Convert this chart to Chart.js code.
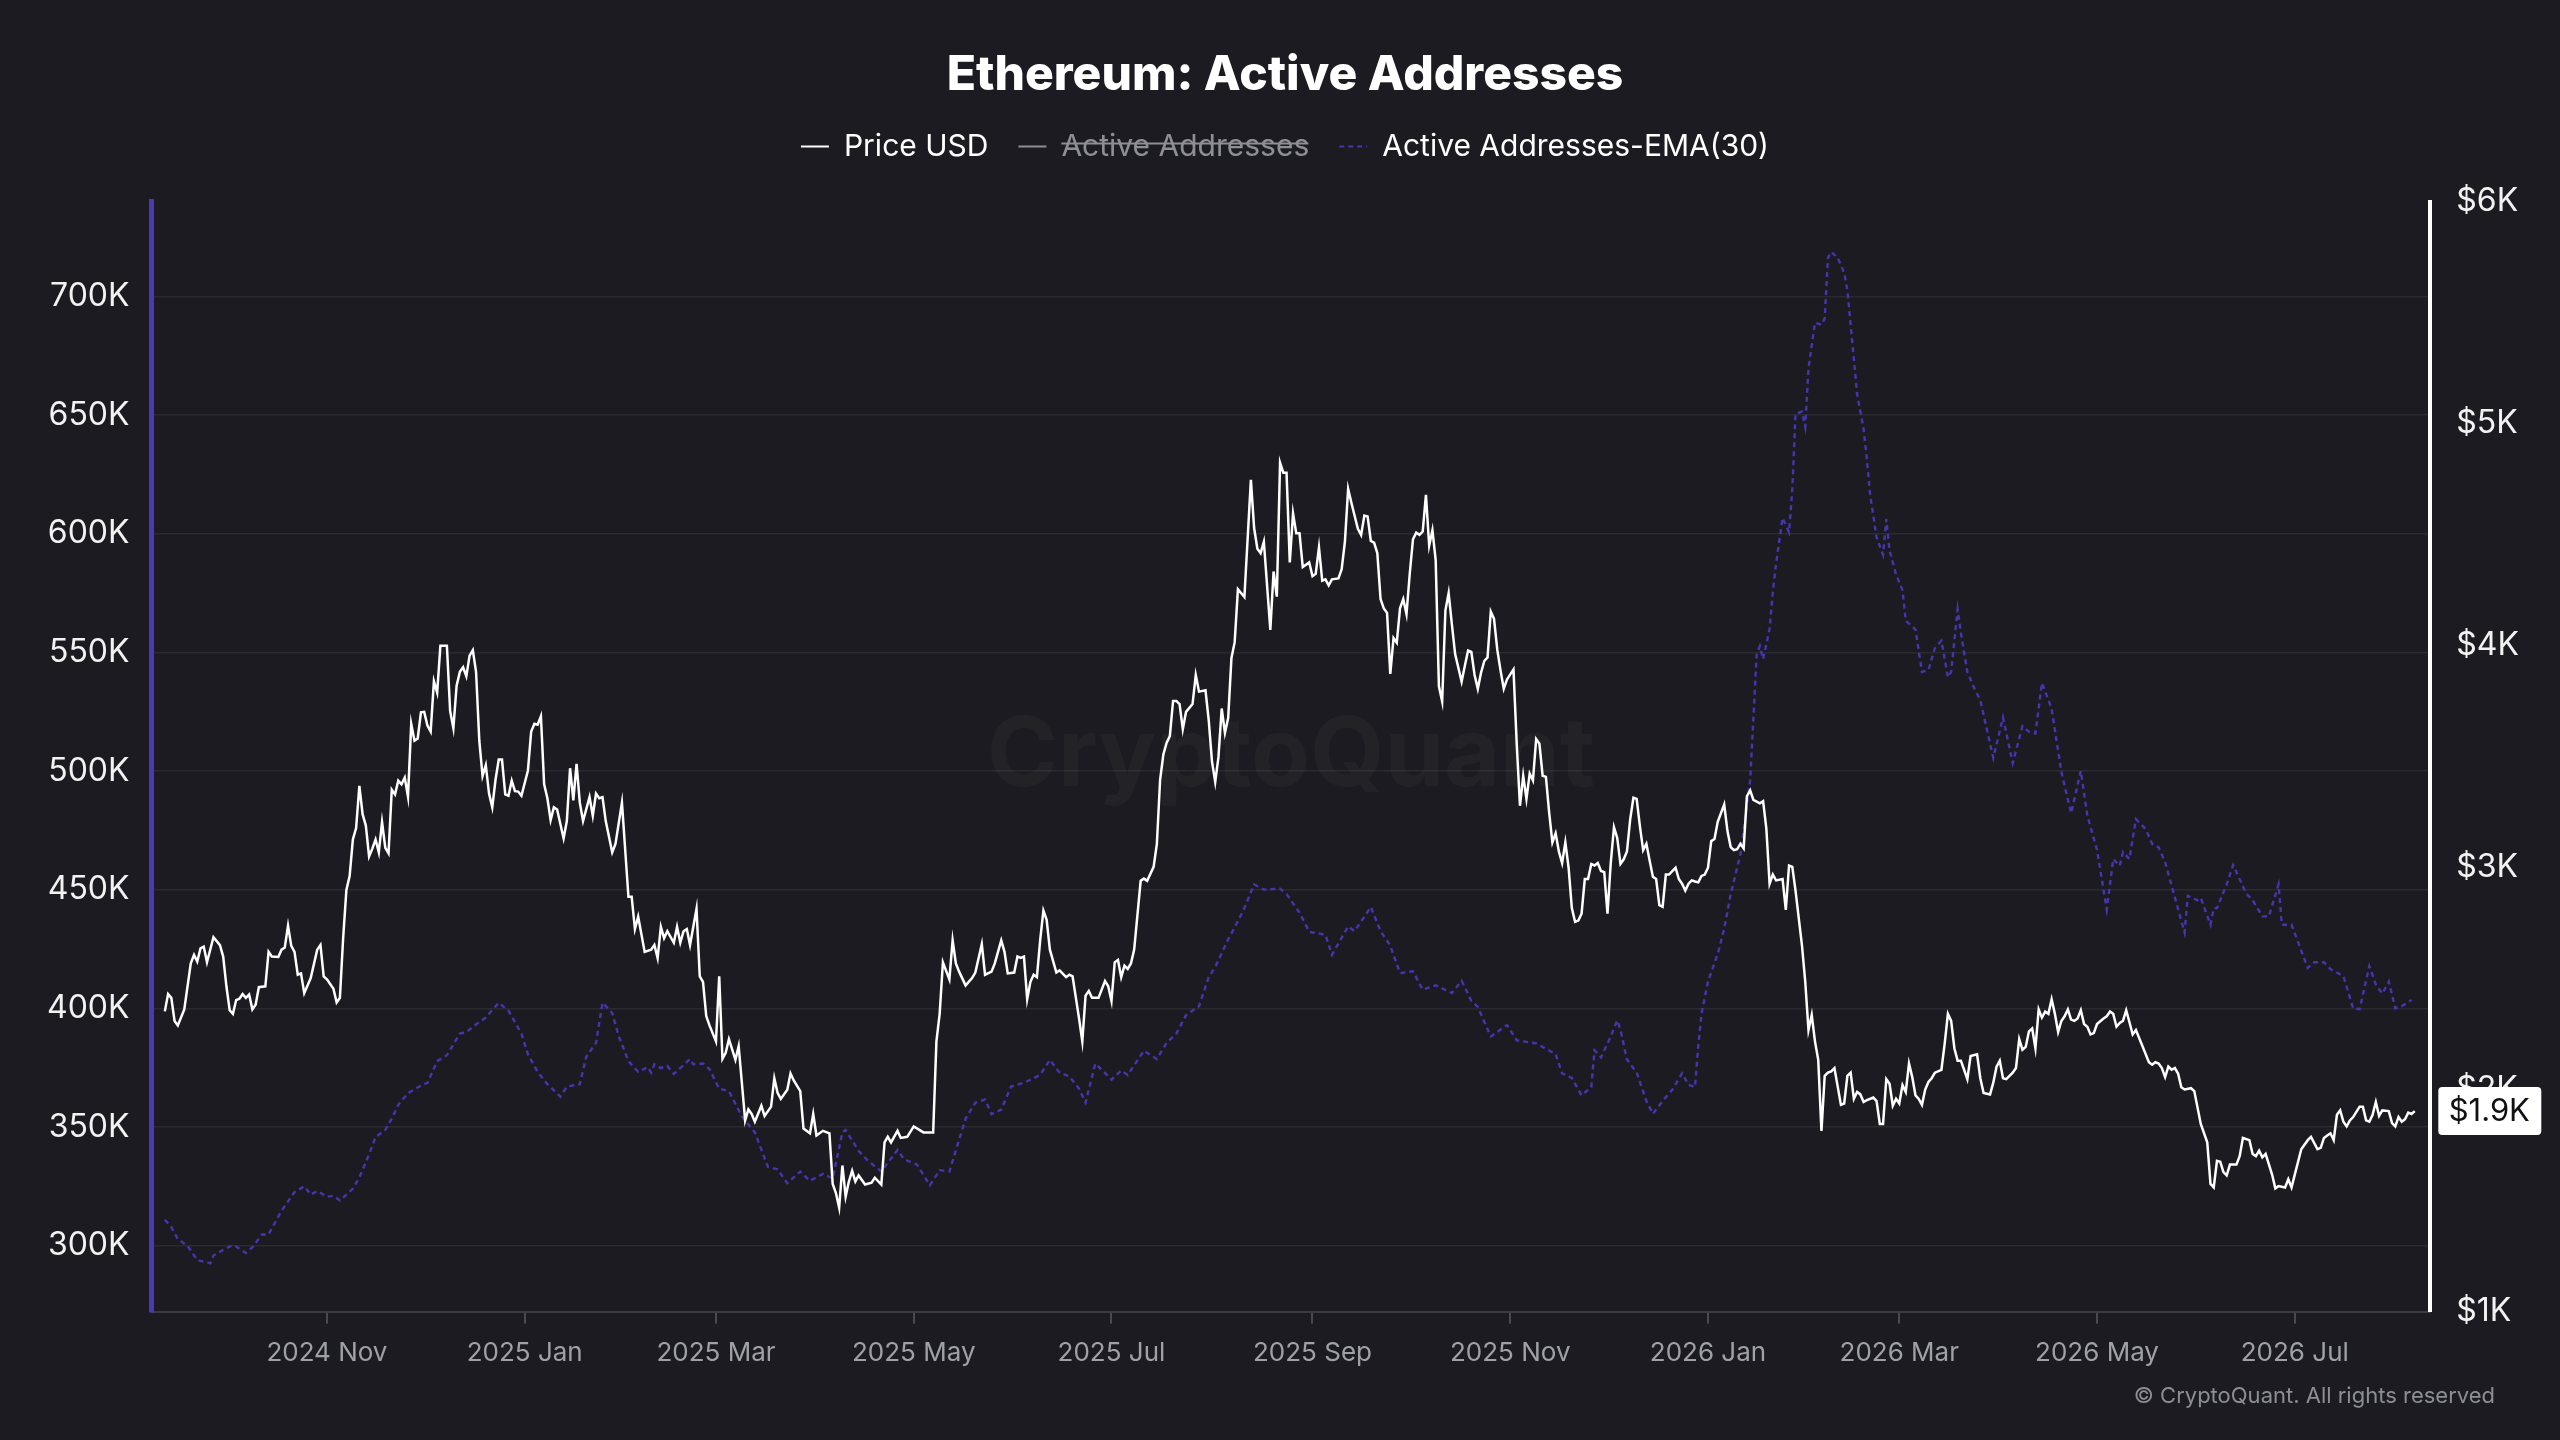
<!DOCTYPE html>
<html>
<head>
<meta charset="utf-8">
<title>Ethereum: Active Addresses</title>
<script src="https://cdn.jsdelivr.net/npm/chart.js@4.4.1/dist/chart.umd.min.js"></script>
<style>
  html, body { margin: 0; padding: 0; background: #1b1b21; }
  #wrap { width: 2560px; height: 1440px; }
</style>
</head>
<body>
<div id="wrap"><canvas id="chart"></canvas></div>
<script>
// day 0 of the series
const startDate = '2024-09-12';

const tickDates = ['2024-11-01', '2025-01-01', '2025-03-01', '2025-05-01', '2025-07-01', '2025-09-01',
    '2025-11-01', '2026-01-01', '2026-03-01', '2026-05-01', '2026-07-01'];
const tickLabels = ['2024 Nov', '2025 Jan', '2025 Mar', '2025 May', '2025 Jul', '2025 Sep',
    '2025 Nov', '2026 Jan', '2026 Mar', '2026 May', '2026 Jul'];
const leftTicks = [300000, 350000, 400000, 450000, 500000, 550000, 600000, 650000, 700000];

// Price USD (right axis), days since startDate
const priceDays = [0,1,2,3,4,6,8,9,10,11,12,13,15,17,18,19,20,21,22,23,24,25,26,27,28,29,31,32,33,35,36,37,38,39,40,41,42,43,45,47,48,49,50,52,53,54,55,56,57,58,59,60,61,62,63,64,65,66,67,68,69,70,71,72,73,74,75,76,77,78,79,80,81,82,83,84,85,87,88,89,90,91,92,93,94,95,96,97,98,99,100,101,102,103,104,105,106,107,108,109,110,112,113,114,115,116,117,118,119,120,121,123,124,125,126,127,128,129,131,132,133,134,135,136,138,139,141,143,144,145,146,148,150,151,152,153,154,155,157,158,159,160,161,162,164,165,166,167,168,170,171,172,173,174,176,177,179,180,181,182,184,185,187,188,189,190,192,193,194,196,197,199,200,201,203,205,206,207,208,209,210,211,212,213,214,216,218,219,221,222,223,224,226,227,229,231,234,237,238,239,240,242,243,244,245,247,249,250,252,253,255,256,258,259,260,262,263,264,265,266,267,268,269,270,271,272,273,275,276,278,279,280,282,283,284,285,286,288,290,291,292,293,294,295,296,297,298,299,301,302,303,305,306,307,308,309,310,311,312,313,314,315,317,318,319,321,322,323,324,325,326,327,328,329,330,331,333,335,336,337,338,339,341,342,343,344,345,346,347,348,349,350,351,353,354,355,356,357,358,359,360,362,363,364,365,366,368,369,370,371,372,373,374,375,376,377,378,379,380,381,382,383,384,385,386,387,388,389,390,391,392,393,394,395,396,397,398,400,401,402,403,404,405,406,407,408,409,410,411,412,413,414,416,417,418,419,420,421,422,423,424,425,426,427,428,429,430,431,432,433,434,435,436,437,438,439,440,441,442,443,444,445,446,447,448,449,450,451,452,453,454,455,456,457,458,459,460,461,462,463,464,466,467,468,469,470,471,472,473,474,475,476,477,478,479,481,482,483,484,485,486,487,488,489,490,492,493,494,495,496,497,499,500,501,502,503,505,506,507,508,509,510,511,512,513,514,515,517,518,519,520,521,522,523,524,525,527,528,529,530,531,532,533,534,535,536,537,538,539,540,541,542,543,544,545,546,548,549,550,551,552,553,554,555,556,557,559,560,561,563,564,565,566,567,568,570,571,572,573,574,575,576,577,578,579,580,581,582,583,584,585,586,587,588,589,590,591,592,593,594,595,596,598,599,600,601,602,603,604,605,606,607,608,610,612,613,614,615,616,617,618,619,620,621,622,623,625,626,628,630,631,632,633,634,635,636,637,639,640,641,643,644,645,646,647,648,650,651,652,654,655,656,657,659,661,662,664,665,666,667,668,669,670,671,672,673,674,675,677,678,679,680,681,682,683,684,686,687,688,689,690,691,692,693,694];
const priceUSD = [2353,2431,2414,2310,2290,2362,2569,2607,2577,2637,2645,2574,2687,2651,2600,2465,2358,2342,2404,2410,2431,2414,2429,2362,2383,2462,2466,2621,2600,2598,2631,2641,2739,2648,2621,2518,2524,2435,2503,2631,2652,2511,2497,2455,2393,2414,2683,2900,2962,3127,3179,3369,3241,3190,3051,3086,3127,3069,3206,3090,3065,3351,3330,3392,3376,3406,3320,3648,3572,3582,3700,3702,3640,3613,3840,3789,4000,4000,3706,3628,3820,3882,3903,3862,3955,3980,3882,3572,3413,3462,3334,3272,3396,3487,3487,3330,3324,3392,3345,3343,3324,3438,3613,3648,3644,3682,3376,3313,3214,3272,3262,3132,3210,3448,3303,3468,3293,3210,3318,3234,3334,3313,3318,3210,3069,3107,3293,2869,2869,2724,2780,2621,2631,2652,2593,2734,2683,2714,2662,2734,2662,2714,2724,2652,2815,2511,2486,2332,2290,2218,2511,2139,2166,2228,2135,2197,1862,1912,1891,1856,1928,1882,1924,2052,1986,1959,2000,2073,2042,1994,1825,1804,1891,1794,1815,1804,1576,1535,1469,1659,1519,1587,1635,1587,1614,1573,1581,1604,1573,1763,1788,1763,1815,1783,1788,1835,1808,1808,2218,2342,2574,2497,2673,2569,2532,2470,2503,2528,2656,2518,2532,2569,2673,2621,2524,2528,2600,2594,2600,2408,2486,2518,2507,2673,2807,2765,2631,2528,2538,2507,2518,2511,2321,2218,2424,2445,2414,2414,2490,2466,2400,2574,2585,2507,2559,2544,2569,2631,2941,2951,2941,3004,3107,3396,3510,3562,3593,3751,3751,3737,3624,3702,3737,3868,3793,3799,3664,3479,3386,3499,3717,3607,3675,3944,4016,4254,4219,4747,4530,4437,4417,4468,4071,4334,4221,4824,4779,4779,4375,4596,4506,4506,4354,4375,4313,4324,4443,4293,4299,4272,4299,4303,4344,4468,4706,4644,4526,4499,4586,4582,4472,4464,4417,4210,4168,4148,3873,4034,4013,4168,4210,4142,4324,4479,4509,4499,4514,4679,4451,4520,4385,3817,3749,4158,4237,4096,3962,3838,3910,3978,3972,3868,3806,3879,3931,3947,4154,4121,3982,3889,3806,3848,3893,3558,3279,3414,3310,3424,3393,3579,3558,3414,3409,3249,3114,3155,3073,3021,3114,3000,2818,2756,2762,2793,2949,2949,3017,3010,3021,2985,2980,2793,3021,3182,3134,3017,3038,3073,3218,3315,3310,3186,3079,3108,3032,2959,2949,2831,2824,2969,2969,3000,2949,2928,2897,2928,2943,2938,2934,2963,2969,3000,3120,3129,3207,3285,3165,3093,3079,3083,3108,3087,3321,3348,3306,3290,3300,3176,2928,2969,2943,2949,2810,3010,3004,2897,2648,2486,2269,2337,2218,2135,1815,2063,2077,2083,2098,1932,1938,2063,2077,1959,1990,1979,1945,1953,1965,1949,1846,1846,2048,2027,1928,1959,1938,2021,1990,2118,2057,1975,1959,1932,2001,2035,2052,2077,2090,2207,2342,2310,2187,2131,2131,2090,2048,2152,2160,2052,1986,1979,2032,2104,2131,2052,2048,2077,2098,2228,2180,2193,2263,2276,2187,2362,2325,2352,2342,2408,2342,2260,2310,2331,2362,2316,2310,2321,2358,2296,2284,2249,2255,2296,2321,2331,2352,2342,2284,2301,2310,2358,2304,2249,2269,2197,2124,2113,2124,2118,2098,2057,2104,2090,2098,2073,2011,2001,2007,1994,1846,1763,1576,1560,1680,1676,1629,1614,1663,1663,1701,1783,1773,1711,1701,1726,1696,1711,1618,1556,1566,1560,1597,1560,1618,1732,1773,1788,1732,1738,1783,1794,1804,1773,1887,1907,1856,1835,1862,1877,1924,1924,1862,1856,1887,1945,1882,1907,1904,1850,1835,1877,1856,1867,1897,1891,1904];

// Active Addresses-EMA(30) (left axis), days since startDate
const emaDays = [0,2,4,7,10,14,15,18,21,22,25,27,30,32,36,40,43,45,47,50,52,54,58,60,63,65,68,70,72,75,79,81,84,87,91,93,96,99,103,106,110,112,115,118,122,124,128,130,133,135,138,140,143,146,149,150,151,153,155,157,159,162,163,166,168,171,174,178,182,186,189,192,196,199,203,206,209,210,214,217,221,226,228,232,236,239,242,247,250,253,255,258,261,265,270,273,276,279,282,284,287,290,292,295,297,302,306,309,312,315,319,322,324,328,331,333,336,339,344,346,350,353,358,360,365,367,372,375,378,381,385,388,392,397,400,403,405,409,414,417,423,429,431,434,437,440,441,443,446,448,449,451,454,457,459,462,465,468,470,472,473,474,476,479,481,483,486,489,490,491,492,493,495,496,497,499,501,502,503,505,506,507,509,511,512,513,514,516,518,519,520,521,522,524,525,526,528,530,531,532,534,536,537,540,542,544,546,548,550,551,553,554,556,558,560,564,567,570,573,575,577,579,582,585,588,591,593,596,599,601,603,604,606,608,611,613,615,617,623,624,627,628,631,632,633,636,638,642,644,647,649,652,653,656,661,663,666,668,672,675,677,680,682,684,686,688,690,693];
const emaActiveAddresses = [311000,308000,302800,300000,294000,292600,295900,298300,300300,299700,297000,299400,304800,304800,314800,322600,325100,321600,323100,320700,321100,319100,324100,328800,338500,345800,348800,353600,359400,364300,367500,368700,377800,380300,389400,390000,393300,396200,402400,399100,389400,380700,373300,368100,362900,367100,368100,379700,385500,402400,398100,388400,377800,373300,375300,373000,376500,374900,375800,372400,374900,378700,376500,376800,374500,366200,365200,354500,347800,333300,332200,326400,331300,327400,330300,328400,347800,348800,340000,335700,331300,340400,336500,334200,325500,331900,331300,353600,360300,361700,355500,357400,367100,368700,372000,378400,372900,371400,366200,360300,376800,372900,370000,373900,372000,382200,378700,385500,389400,397200,401000,413200,417500,429100,436800,442300,452300,450100,450500,448200,440400,432300,431100,422600,434600,432600,442800,432600,426500,414900,415700,407900,409800,406500,411700,403200,400700,388200,393000,386600,385300,380800,372700,370700,363400,366800,382400,379400,388200,395000,391100,378500,373000,361000,355600,361000,365800,372700,367800,366900,384300,397800,411400,423000,433600,448200,464900,496000,522000,549000,552700,547200,560000,575600,587500,606700,600700,618500,650600,651500,645100,669800,689000,688100,690800,716400,718800,716400,710000,702700,688100,673500,658800,644200,631400,616800,598500,591200,606200,593000,583000,576200,563400,559700,541800,542700,551900,555000,539600,541800,568300,558300,541800,535400,529900,505600,522600,503400,519000,516600,515900,537200,526300,499700,482300,500100,481400,466800,441700,463000,460100,465900,463000,479800,475600,469400,467900,461700,432000,447500,445600,446600,435300,442300,442300,452300,460500,448500,445600,438800,438800,452300,435300,435300,417100,419500,419500,416600,413600,400100,399700,417900,410100,406200,411300,400100,401000,403600];

const bgColor = '#1b1b21';
const fontFamily = 'Inter, "Noto Sans", sans-serif';

const dayOf = s => Math.round((Date.parse(s) - Date.parse(startDate)) / 86400000);
const tickDays = tickDates.map(dayOf);

const backgroundPlugin = {
    id: 'bg',
    beforeDraw(chart) {
        const ctx = chart.ctx;
        ctx.save();
        ctx.fillStyle = bgColor;
        ctx.fillRect(0, 0, chart.width, chart.height);
        ctx.restore();
    }
};

const watermarkPlugin = {
    id: 'watermark',
    beforeDatasetsDraw(chart) {
        const {ctx, chartArea} = chart;
        ctx.save();
        ctx.font = 'bold 96px ' + fontFamily;
        ctx.fillStyle = 'rgba(255,255,255,0.03)';
        ctx.textAlign = 'center';
        ctx.textBaseline = 'middle';
        ctx.fillText('CryptoQuant', (chartArea.left + chartArea.right) / 2, (chartArea.top + chartArea.bottom) / 2);
        ctx.restore();
    }
};

// last price tag on the right axis + copyright line
const extrasPlugin = {
    id: 'extras',
    afterDraw(chart) {
        const {ctx, chartArea} = chart;
        const last = priceUSD[priceUSD.length - 1];
        const y = chart.scales.yR.getPixelForValue(last);
        const x = chartArea.right + 8;
        ctx.save();
        ctx.fillStyle = '#ffffff';
        ctx.beginPath();
        ctx.roundRect(x, y - 24, 103, 48, 4);
        ctx.fill();
        ctx.fillStyle = '#111111';
        ctx.font = '31px ' + fontFamily;
        ctx.textAlign = 'center';
        ctx.textBaseline = 'middle';
        ctx.fillText('$' + (last / 1000).toFixed(1) + 'K', x + 51, y + 1);

        ctx.fillStyle = '#8d8d95';
        ctx.font = '22px ' + fontFamily;
        ctx.textAlign = 'right';
        ctx.fillText('\u00A9 CryptoQuant. All rights reserved', 2495, 1396);
        ctx.restore();
    }
};

const config = {
    type: 'line',
    data: {
        datasets: [
            {
                label: 'Price USD',
                data: priceDays.map((d, i) => ({x: d, y: priceUSD[i]})),
                yAxisID: 'yR',
                borderColor: '#ffffff',
                backgroundColor: '#ffffff',
                borderWidth: 2.5,
                pointRadius: 0,
                tension: 0
            },
            {
                label: 'Active Addresses',
                data: [],
                yAxisID: 'yL',
                hidden: true,
                borderColor: '#8e8e96',
                backgroundColor: '#8e8e96',
                borderWidth: 2,
                pointRadius: 0
            },
            {
                label: 'Active Addresses-EMA(30)',
                data: emaDays.map((d, i) => ({x: d, y: emaActiveAddresses[i]})),
                yAxisID: 'yL',
                borderColor: '#4636ae',
                backgroundColor: '#4636ae',
                borderWidth: 2.4,
                borderDash: [5, 4],
                pointRadius: 0,
                tension: 0
            }
        ]
    },
    options: {
        responsive: true,
        maintainAspectRatio: false,
        devicePixelRatio: 1,
        animation: false,
        events: [],
        layout: { padding: { left: 25, right: 15, top: 0, bottom: 57 } },
        plugins: {
            title: {
                display: true,
                text: 'Ethereum: Active Addresses',
                color: '#ffffff',
                font: { family: fontFamily, size: 48, weight: 800, lineHeight: 1.075 },
                padding: { top: 50, bottom: 0 }
            },
            // empty spacer box between the legend and the plot
            subtitle: {
                display: true,
                text: '',
                weight: 500,
                font: { size: 10, lineHeight: 1 },
                padding: { top: 20, bottom: 0 }
            },
            legend: {
                position: 'top',
                labels: {
                    usePointStyle: true,
                    pointStyleWidth: 28,
                    padding: 30,
                    color: '#ffffff',
                    font: { family: fontFamily, size: 30 },
                    generateLabels: chart => chart.data.datasets.map((ds, i) => {
                        const visible = chart.isDatasetVisible(i);
                        return {
                            text: ds.label,
                            fillStyle: ds.borderColor,
                            strokeStyle: ds.borderColor,
                            lineWidth: 2,
                            lineDash: ds.borderDash || [],
                            pointStyle: 'line',
                            hidden: !visible,
                            fontColor: visible ? '#ffffff' : '#8e8e96',
                            datasetIndex: i
                        };
                    })
                }
            },
            tooltip: { enabled: false }
        },
        scales: {
            x: {
                type: 'linear',
                min: -4.1,
                max: 698.8,
                afterBuildTicks: axis => { axis.ticks = tickDays.map(v => ({value: v})); },
                ticks: {
                    autoSkip: false,
                    maxRotation: 0,
                    color: '#a0a0a8',
                    font: { family: fontFamily, size: 26 },
                    padding: 14,
                    callback: (v, i) => tickLabels[i]
                },
                grid: { drawOnChartArea: false, drawTicks: true, tickLength: 12, color: '#4a4a52', lineWidth: 2 },
                border: { display: true, color: '#3b3b43', width: 2 }
            },
            yL: {
                position: 'left',
                min: 272200,
                max: 740000,
                afterBuildTicks: axis => { axis.ticks = leftTicks.map(v => ({value: v})); },
                ticks: {
                    color: '#f2f2f2',
                    font: { family: fontFamily, size: 32 },
                    padding: 22,
                    callback: v => (v / 1000) + 'K'
                },
                grid: { color: '#2a2a31', lineWidth: 1.5, drawTicks: false },
                border: { display: true, color: '#4b3bb0', width: 5 }
            },
            yR: {
                position: 'right',
                min: 1000,
                max: 6000,
                ticks: {
                    stepSize: 1000,
                    color: '#f2f2f2',
                    font: { family: fontFamily, size: 32 },
                    padding: 26,
                    callback: v => '$' + (v / 1000) + 'K'
                },
                grid: { drawOnChartArea: false, drawTicks: false },
                border: { display: true, color: '#ffffff', width: 4 }
            }
        }
    },
    plugins: [backgroundPlugin, watermarkPlugin, extrasPlugin]
};

const chart = new Chart(document.getElementById('chart').getContext('2d'), config);
</script>
</body>
</html>
